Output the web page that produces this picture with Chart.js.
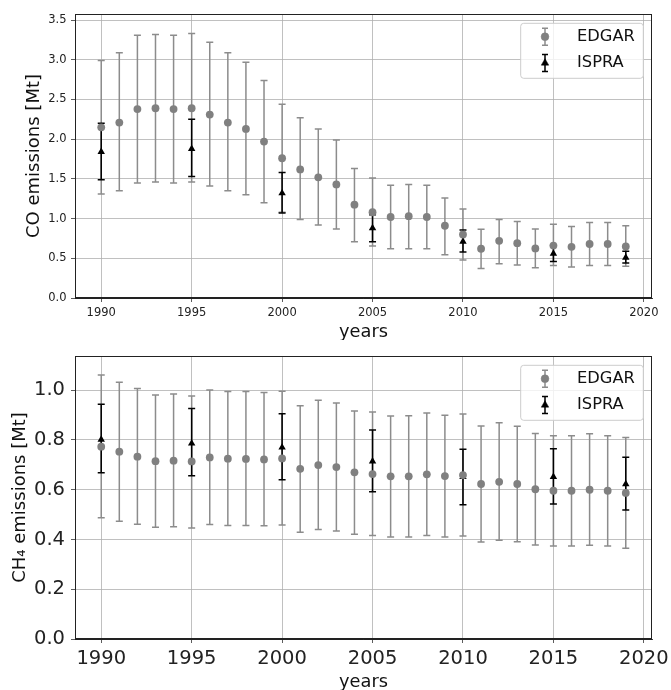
<!DOCTYPE html>
<html><head><meta charset="utf-8">
<script src="https://cdn.jsdelivr.net/npm/chart.js@4"></script>
<style>
html,body{margin:0;padding:0;background:#fff;overflow:hidden;}
#c1{position:absolute;left:0;top:0;width:671px;height:340px;}
#c2{position:absolute;left:0;top:340px;width:671px;height:350px;}
</style></head>
<body>
<canvas id="c1" width="671" height="340"></canvas>
<canvas id="c2" width="671" height="350"></canvas>
<script>
// ---------- data ----------
const years = [1990,1991,1992,1993,1994,1995,1996,1997,1998,1999,2000,2001,2002,2003,2004,2005,2006,2007,2008,2009,2010,2011,2012,2013,2014,2015,2016,2017,2018,2019];
const ispraYears = [1990,1995,2000,2005,2010,2015,2019];

const coEdgar     = [2.15,2.21,2.38,2.39,2.38,2.39,2.31,2.21,2.13,1.97,1.76,1.62,1.52,1.43,1.175,1.08,1.02,1.03,1.02,0.91,0.80,0.62,0.72,0.69,0.625,0.66,0.645,0.68,0.68,0.65];
const coEdgarHigh = [2.99,3.09,3.31,3.32,3.31,3.33,3.22,3.09,2.97,2.74,2.44,2.27,2.13,1.99,1.63,1.51,1.42,1.43,1.42,1.26,1.12,0.865,0.99,0.965,0.87,0.93,0.90,0.95,0.95,0.91];
const coEdgarLow  = [1.31,1.35,1.45,1.46,1.45,1.46,1.41,1.35,1.30,1.20,1.08,0.99,0.92,0.87,0.71,0.655,0.62,0.62,0.62,0.545,0.48,0.37,0.43,0.415,0.38,0.41,0.39,0.41,0.41,0.40];
const coIspra     = [1.84,1.88,1.32,0.88,0.71,0.56,0.51];
const coIspraHigh = [2.20,2.25,1.58,1.05,0.855,0.66,0.59];
const coIspraLow  = [1.49,1.53,1.07,0.71,0.58,0.46,0.44];

const ch4Edgar     = [0.773,0.753,0.733,0.715,0.717,0.714,0.730,0.725,0.724,0.722,0.726,0.684,0.699,0.691,0.670,0.663,0.654,0.654,0.662,0.655,0.659,0.623,0.632,0.623,0.602,0.596,0.596,0.600,0.596,0.587];
const ch4EdgarHigh = [1.061,1.032,1.007,0.981,0.985,0.977,1.001,0.995,0.995,0.991,0.996,0.938,0.960,0.949,0.917,0.912,0.896,0.897,0.908,0.899,0.904,0.856,0.869,0.855,0.826,0.817,0.817,0.825,0.817,0.810];
const ch4EdgarLow  = [0.487,0.473,0.461,0.449,0.451,0.446,0.460,0.456,0.456,0.455,0.458,0.429,0.440,0.434,0.421,0.416,0.410,0.410,0.416,0.410,0.414,0.390,0.397,0.391,0.378,0.374,0.374,0.377,0.374,0.365];
const ch4Ispra     = [0.802,0.786,0.770,0.714,0.652,0.652,0.623];
const ch4IspraHigh = [0.944,0.927,0.905,0.840,0.763,0.765,0.731];
const ch4IspraLow  = [0.668,0.656,0.640,0.592,0.540,0.543,0.519];

const xTickValues   = [1990,1995,2000,2005,2010,2015,2020];
const coTickValues  = [0.0,0.5,1.0,1.5,2.0,2.5,3.0,3.5];
const ch4TickValues = [0.0,0.2,0.4,0.6,0.8,1.0];
const seriesNames   = ['EDGAR','ISPRA'];

// ---------- helpers ----------
const FAMILY = "'DejaVu Sans', sans-serif";
Chart.defaults.font.family = FAMILY;
const EDGAR_COLOR = '#808080';
const EDGAR_BAR = '#8c8c8c';
const ISPRA_COLOR = '#000000';

function pts(xs, ys) { return xs.map((x, i) => ({x: x, y: ys[i]})); }

const errorBarPlugin = {
  id: 'errorBars',
  beforeDatasetsDraw(chart) {
    const ctx = chart.ctx, xs = chart.scales.x, ys = chart.scales.y;
    chart.data.datasets.forEach(ds => {
      ctx.save();
      ctx.strokeStyle = ds.errColor;
      ctx.lineWidth = 1.5;
      ds.data.forEach((p, i) => {
        const x = xs.getPixelForValue(p.x);
        const yl = ys.getPixelForValue(ds.errLow[i]);
        const yh = ys.getPixelForValue(ds.errHigh[i]);
        ctx.beginPath();
        ctx.moveTo(x, yl); ctx.lineTo(x, yh);
        ctx.moveTo(x - 3.5, yl); ctx.lineTo(x + 3.5, yl);
        ctx.moveTo(x - 3.5, yh); ctx.lineTo(x + 3.5, yh);
        ctx.stroke();
      });
      ctx.restore();
    });
  },
  afterDraw(chart) {
    const ctx = chart.ctx, a = chart.chartArea;
    // frame
    ctx.save();
    ctx.strokeStyle = '#222';
    ctx.lineWidth = 1;
    ctx.strokeRect(Math.round(a.left) + 0.5, Math.round(a.top) + 0.5, Math.round(a.right - a.left) - 1, Math.round(a.bottom - a.top) - 1);
    // legend
    const w = 122.6, h = 55;
    const x0 = a.right - 8.7 - w, y0 = a.top + 9.3;
    ctx.beginPath();
    const r = 3;
    ctx.moveTo(x0 + r, y0);
    ctx.lineTo(x0 + w - r, y0); ctx.quadraticCurveTo(x0 + w, y0, x0 + w, y0 + r);
    ctx.lineTo(x0 + w, y0 + h - r); ctx.quadraticCurveTo(x0 + w, y0 + h, x0 + w - r, y0 + h);
    ctx.lineTo(x0 + r, y0 + h); ctx.quadraticCurveTo(x0, y0 + h, x0, y0 + h - r);
    ctx.lineTo(x0, y0 + r); ctx.quadraticCurveTo(x0, y0, x0 + r, y0);
    ctx.closePath();
    ctx.fillStyle = 'rgba(255,255,255,0.8)';
    ctx.fill();
    ctx.strokeStyle = '#cccccc';
    ctx.stroke();
    chart.data.datasets.forEach((ds, i) => {
      const cy = y0 + 13.4 + i * 26.3;
      const mx = x0 + 24.3;
      ctx.strokeStyle = ds.errColor;
      ctx.lineWidth = 1.5;
      ctx.beginPath();
      ctx.moveTo(mx, cy - 8.5); ctx.lineTo(mx, cy + 8.5);
      ctx.moveTo(mx - 3, cy - 8.5); ctx.lineTo(mx + 3, cy - 8.5);
      ctx.moveTo(mx - 3, cy + 8.5); ctx.lineTo(mx + 3, cy + 8.5);
      ctx.stroke();
      ctx.fillStyle = ds.backgroundColor;
      ctx.strokeStyle = ds.backgroundColor;
      ctx.lineWidth = 0.5;
      Chart.helpers.drawPoint(ctx, {pointStyle: ds.pointStyle, radius: ds.pointRadius, rotation: 0, borderWidth: 0.5}, mx, cy);
      ctx.fillStyle = '#111';
      ctx.font = '16.3px ' + FAMILY;
      ctx.textBaseline = 'middle';
      ctx.textAlign = 'left';
      ctx.fillText(ds.label, x0 + 56.3, cy);
    });
    ctx.restore();
  }
};

function makeChart(id, cfg) {
  const datasets = [
    {label: seriesNames[0], data: pts(years, cfg.edgar), errLow: cfg.edgarLow, errHigh: cfg.edgarHigh,
     errColor: EDGAR_BAR, backgroundColor: EDGAR_COLOR, borderColor: EDGAR_COLOR, borderWidth: 0,
     pointStyle: 'circle', pointRadius: 3.9, order: 0},
    {label: seriesNames[1], data: pts(ispraYears, cfg.ispra), errLow: cfg.ispraLow, errHigh: cfg.ispraHigh,
     errColor: ISPRA_COLOR, backgroundColor: ISPRA_COLOR, borderColor: ISPRA_COLOR, borderWidth: 0,
     pointStyle: 'triangle', pointRadius: 4.3, order: 1}
  ];
  return new Chart(document.getElementById(id), {
    type: 'scatter',
    data: {datasets: datasets},
    plugins: [errorBarPlugin],
    options: {
      responsive: false,
      animation: false,
      events: [],
      layout: {padding: {top: cfg.padTop, right: 19, bottom: 0, left: 0}},
      plugins: {legend: {display: false}, tooltip: {enabled: false}},
      scales: {
        x: {
          type: 'linear', min: 1988.55, max: 2020.45,
          afterBuildTicks: s => { s.ticks = xTickValues.map(v => ({value: v})); },
          afterFit: s => { s.height = cfg.xHeight; s.paddingLeft = 0; s.paddingRight = 0; },
          grid: {color: '#b0b0b0', lineWidth: 0.8, tickColor: '#333', tickLength: 4},
          border: {display: true, color: '#222', width: 1},
          ticks: {font: {size: cfg.tickSize}, color: '#222', padding: 4, maxRotation: 0, autoSkip: false,
                  callback: v => String(v)},
          title: {display: true, text: 'years', font: {size: 17.8}, color: '#111', padding: {top: 0, bottom: cfg.xTitlePad}}
        },
        y: {
          type: 'linear', min: 0, max: cfg.yMax,
          afterBuildTicks: s => { s.ticks = cfg.yTicks.map(v => ({value: v})); },
          afterFit: s => { s.width = 75; s.paddingTop = 0; s.paddingBottom = 0; },
          grid: {color: '#b0b0b0', lineWidth: 0.8, tickColor: '#333', tickLength: 4},
          border: {display: true, color: '#222', width: 1},
          ticks: {font: {size: cfg.tickSize}, color: '#222', padding: cfg.yTickPad, autoSkip: false,
                  callback: v => Number(v).toFixed(1)},
          title: {display: true, text: cfg.yTitle, font: {size: 18}, color: '#111', padding: {top: cfg.yTitlePad, bottom: 0}}
        }
      }
    }
  });
}

makeChart('c1', {
  edgar: coEdgar, edgarLow: coEdgarLow, edgarHigh: coEdgarHigh,
  ispra: coIspra, ispraLow: coIspraLow, ispraHigh: coIspraHigh,
  yMax: 3.577, yTicks: coTickValues, yTitle: 'CO emissions [Mt]',
  padTop: 14, xHeight: 42, tickSize: 11.5, yTickPad: 4.5, yTitlePad: 24, xTitlePad: -3.1
});
makeChart('c2', {
  edgar: ch4Edgar, edgarLow: ch4EdgarLow, edgarHigh: ch4EdgarHigh,
  ispra: ch4Ispra, ispraLow: ch4IspraLow, ispraHigh: ch4IspraHigh,
  yMax: 1.1376, yTicks: ch4TickValues, yTitle: 'CH\u2084 emissions [Mt]',
  padTop: 16, xHeight: 51, tickSize: 19.5, yTickPad: 6, yTitlePad: 10, xTitlePad: -3
});
</script>
</body></html>
